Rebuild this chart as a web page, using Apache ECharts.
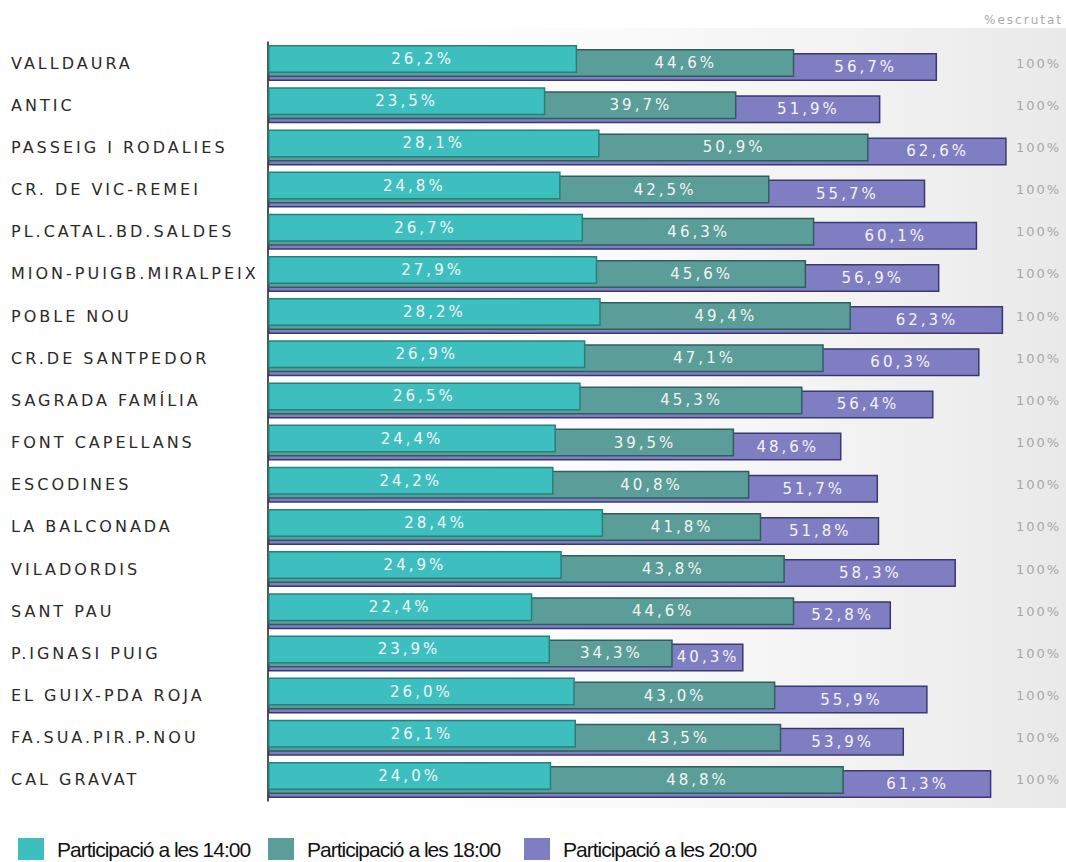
<!DOCTYPE html>
<html><head><meta charset="utf-8">
<script src="https://cdn.jsdelivr.net/npm/echarts@6/dist/echarts.min.js"></script>
<style>
html,body{margin:0;padding:0;background:#fff}
#c{width:1066px;height:862px}
text[style*="Verdana"]{letter-spacing:3px}
text[style*="Tahoma"]{letter-spacing:3px}
text[style*="Geneva"]{letter-spacing:2px}
text[style*="Arial"]{letter-spacing:-1px}
</style></head><body><div id="c"></div>
<script>
const categories = ['VALLDAURA','ANTIC','PASSEIG I RODALIES','CR. DE VIC-REMEI','PL.CATAL.BD.SALDES','MION-PUIGB.MIRALPEIX','POBLE NOU','CR.DE SANTPEDOR','SAGRADA FAMÍLIA','FONT CAPELLANS','ESCODINES','LA BALCONADA','VILADORDIS','SANT PAU','P.IGNASI PUIG','EL GUIX-PDA ROJA','FA.SUA.PIR.P.NOU','CAL GRAVAT'];
const p14 = [26.2,23.5,28.1,24.8,26.7,27.9,28.2,26.9,26.5,24.4,24.2,28.4,24.9,22.4,23.9,26.0,26.1,24.0];
const p18 = [44.6,39.7,50.9,42.5,46.3,45.6,49.4,47.1,45.3,39.5,40.8,41.8,43.8,44.6,34.3,43.0,43.5,48.8];
const p20 = [56.7,51.9,62.6,55.7,60.1,56.9,62.3,60.3,56.4,48.6,51.7,51.8,58.3,52.8,40.3,55.9,53.9,61.3];
const escrutat = ['100%','100%','100%','100%','100%','100%','100%','100%','100%','100%','100%','100%','100%','100%','100%','100%','100%','100%'];
const seriesNames = ['Participació a les 14:00','Participació a les 18:00','Participació a les 20:00'];
const headerText = '%escrutat';

const fmt = v => v.toFixed(1).replace('.', ',') + '%';
const chart = echarts.init(document.getElementById('c'), null, {renderer: 'svg'});

function makeSeries(idx, data, prev, fill, border, z) {
  return {
    name: seriesNames[idx], type: 'bar', data: data, z: z,
    barWidth: 28, barGap: '-85.7%',
    itemStyle: {color: fill, borderColor: border, borderWidth: 1.5},
    label: {show: true, position: 'inside', color: '#f4f4f4', fontSize: 15,
      fontFamily: 'DejaVu Sans, Tahoma', formatter: p => fmt(p.value)},
    labelLayout: prev ? function (p) {
      const i = p.dataIndex;
      return {dx: p.rect.width * prev[i] / data[i] / 2};
    } : null,
    emphasis: {disabled: true},
    animation: false
  };
}

const legendLefts = [18, 268, 524];
const legends = seriesNames.map((n, i) => ({
  left: legendLefts[i], top: 838, padding: 0, itemWidth: 26, itemHeight: 22,
  icon: 'rect', itemStyle: {borderWidth: 0},
  textStyle: {fontSize: 21, color: '#111', fontFamily: 'Liberation Sans, Arial', padding: [0, 0, 0, 8]},
  data: [n]
}));

chart.setOption({
  animation: false,
  title: {text: headerText, right: 16, top: 9,
    textStyle: {fontSize: 12, color: '#aaaaaa', fontWeight: 'normal', fontFamily: 'DejaVu Sans, Geneva'}},
  graphic: [{type: 'rect', z: -10, silent: true,
    shape: {x: 270, y: 28, width: 796, height: 780},
    style: {fill: new echarts.graphic.LinearGradient(0, 0, 1, 0, [
      {offset: 0, color: 'rgba(255,255,255,0)'},
      {offset: 0.4, color: 'rgba(248,248,248,0.6)'},
      {offset: 1, color: '#e9e9e9'}])}}],
  legend: legends,
  grid: {left: 268, right: 31, top: 42, height: 759},
  xAxis: {type: 'value', min: 0, max: 65, show: false},
  yAxis: [{
    type: 'category', data: categories, inverse: true,
    axisLine: {show: true, lineStyle: {color: '#1a1a1a', width: 1.5}},
    axisTick: {show: false},
    axisLabel: {align: 'left', margin: 257, color: '#2a2a2a', fontSize: 16, fontFamily: 'DejaVu Sans, Verdana'}
  }, {
    type: 'category', data: escrutat, inverse: true, position: 'right',
    axisLine: {show: false}, axisTick: {show: false},
    axisLabel: {align: 'left', margin: -19, color: '#a8a8a8', fontSize: 13, fontFamily: 'DejaVu Sans, Geneva'}
  }],
  series: [
    makeSeries(0, p14, null, '#3ebfbf', '#27807d', 4),
    makeSeries(1, p18, p14, '#5b9d99', '#2f5f5b', 3),
    makeSeries(2, p20, p18, '#807ec3', '#3a3872', 2)
  ]
});
</script></body></html>
